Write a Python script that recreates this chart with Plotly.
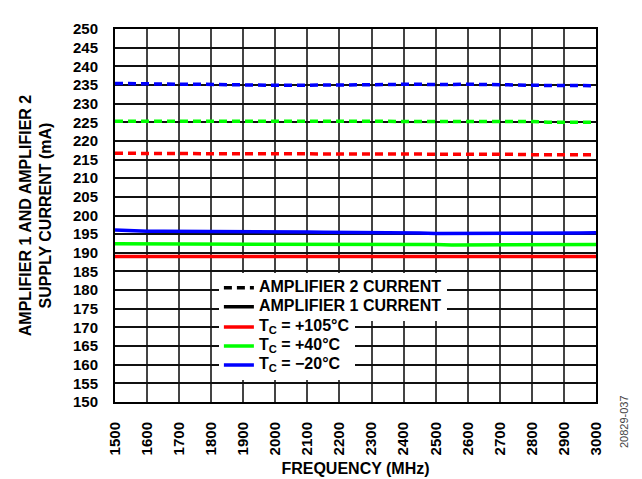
import plotly.graph_objects as go

# frequency sweep, MHz
freq = list(range(1500, 3001, 50))

# amplifier 2 current (dashed), mA
amp2_m20 = [235.4, 235.3, 235.2, 235.2, 235.2, 235.2, 235.1, 235.1, 235.0, 234.9, 234.9,
            234.9, 234.9, 235.0, 235.0, 235.0, 235.1, 235.1, 235.2, 235.1, 235.1, 235.1,
            235.2, 235.2, 235.1, 235.0, 234.9, 234.9, 234.8, 234.7, 234.8]
amp2_p40 = [225.3, 225.3, 225.3, 225.3, 225.3, 225.2, 225.2, 225.2, 225.2, 225.2, 225.2,
            225.2, 225.2, 225.2, 225.2, 225.2, 225.2, 225.1, 225.3, 225.1, 225.2, 225.2,
            225.2, 225.1, 225.2, 225.1, 225.2, 225.0, 224.9, 225.0, 225.0]
amp2_p105 = [216.7, 216.6, 216.6, 216.6, 216.6, 216.6, 216.6, 216.6, 216.6, 216.6, 216.5,
             216.5, 216.5, 216.5, 216.4, 216.4, 216.4, 216.4, 216.4, 216.4, 216.4, 216.4,
             216.4, 216.4, 216.4, 216.4, 216.3, 216.3, 216.2, 216.3, 216.3]

# amplifier 1 current (solid), mA
amp1_m20 = [196.1, 195.9, 195.8, 195.8, 195.8, 195.8, 195.8, 195.8, 195.8, 195.8, 195.7,
            195.6, 195.6, 195.5, 195.5, 195.4, 195.3, 195.3, 195.3, 195.3, 195.2, 195.2,
            195.2, 195.1, 195.2, 195.2, 195.3, 195.3, 195.3, 195.3, 195.4]
amp1_p40 = [192.4, 192.4, 192.4, 192.4, 192.4, 192.4, 192.3, 192.3, 192.3, 192.2, 192.2,
            192.2, 192.2, 192.2, 192.2, 192.2, 192.2, 192.2, 192.2, 192.2, 192.2, 192.1,
            192.1, 192.1, 192.1, 192.1, 192.1, 192.1, 192.2, 192.1, 192.2]
amp1_p105 = [189.0, 189.0, 189.0, 189.0, 189.0, 189.0, 189.0, 189.0, 189.0, 189.0, 189.0,
             189.0, 189.0, 189.0, 189.0, 189.0, 189.0, 189.0, 189.0, 189.0, 189.0, 189.0,
             189.0, 189.0, 188.9, 188.8, 188.9, 189.0, 189.0, 189.0, 189.0]

RED, GREEN, BLUE = '#ff0000', '#00ff00', '#0000ff'
FONT = 'Liberation Sans, Arial, sans-serif'
DASH = '8px,5px'

fig = go.Figure()

series = [
    (amp2_p105, RED, DASH), (amp2_p40, GREEN, DASH), (amp2_m20, BLUE, DASH),
    (amp1_p105, RED, 'solid'), (amp1_p40, GREEN, 'solid'), (amp1_m20, BLUE, 'solid'),
]
for vals, color, dash in series:
    fig.add_trace(go.Scatter(x=freq, y=vals, mode='lines', showlegend=False,
                             line=dict(color=color, width=3.5, dash=dash)))


def big(txt):
    # legend font is kept small so rows pack tightly; the text itself is drawn at 16px
    return f'<span style="font-size:16px"><b>{txt}</b></span>'


# legend-only entries: line style block and temperature block
legend_items = [
    ('AMPLIFIER 2 CURRENT', 'black', DASH, 'legend'),
    ('AMPLIFIER 1 CURRENT', 'black', 'solid', 'legend'),
    ('T<sub>C</sub> = +105°C', RED, 'solid', 'legend2'),
    ('T<sub>C</sub> = +40°C', GREEN, 'solid', 'legend2'),
    ('T<sub>C</sub> = −20°C', BLUE, 'solid', 'legend2'),
]
for name, color, dash, key in legend_items:
    fig.add_trace(go.Scatter(x=[None], y=[None], mode='lines', name=big(name), legend=key,
                             line=dict(color=color, width=3.5, dash=dash)))

legend_style = dict(x=0.216, xanchor='left', yanchor='middle', bgcolor='white',
                    borderwidth=0, itemwidth=30, font=dict(size=10, family=FONT, color='black'))

fig.add_annotation(text='20829-037', xref='paper', yref='paper', x=1.075, y=-0.13,
                   showarrow=False, textangle=-90,
                   font=dict(size=11, color='#444', family=FONT))

fig.update_layout(
    width=642, height=479,
    margin=dict(l=107, r=54, t=12, b=82),
    paper_bgcolor='white', plot_bgcolor='white',
    font=dict(family=FONT, size=15, color='black'),
    showlegend=True,
    legend=dict(legend_style, y=0.281),
    legend2=dict(legend_style, y=0.150),
)
fig.update_xaxes(
    range=[1500, 3000], dtick=100, tickangle=-90,
    tickfont=dict(size=15, weight='bold'), ticklabelstandoff=12,
    showgrid=True, gridcolor='#444', gridwidth=2,
    showline=True, linecolor='black', linewidth=2, mirror=True, zeroline=False,
    title=dict(text='<b>FREQUENCY (MHz)</b>', font=dict(size=16), standoff=8),
)
fig.update_yaxes(
    range=[150, 250], dtick=5,
    tickfont=dict(size=15, weight='bold'), ticklabelstandoff=12,
    showgrid=True, gridcolor='#111', gridwidth=1.5,
    showline=True, linecolor='black', linewidth=2, mirror=True, zeroline=False,
    title=dict(text='<b>AMPLIFIER 1 AND AMPLIFIER 2<br>SUPPLY CURRENT (mA)</b>',
               font=dict(size=16), standoff=17),
)

fig.write_html("out.html")
